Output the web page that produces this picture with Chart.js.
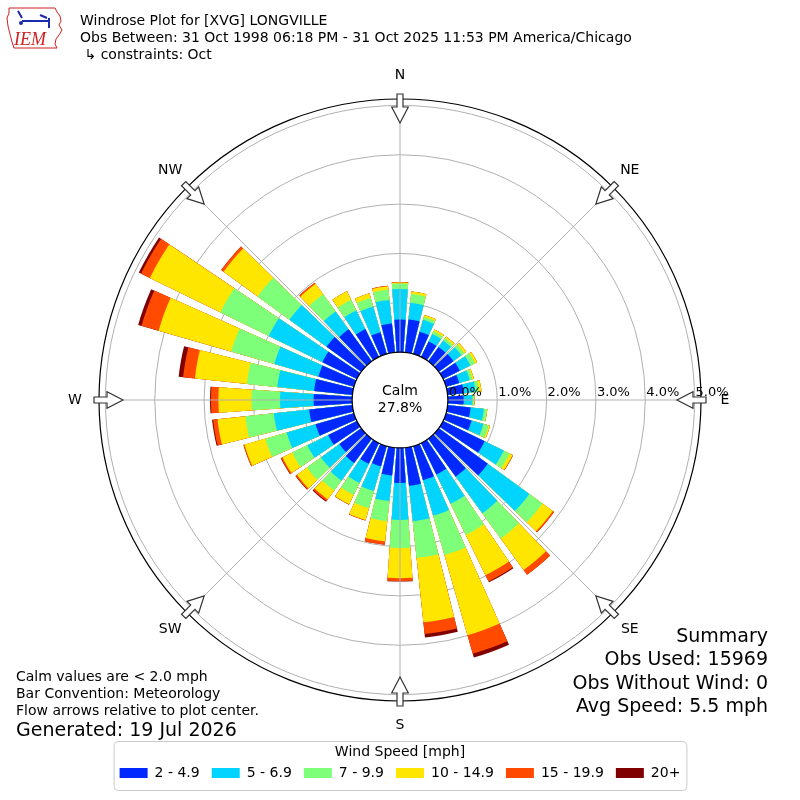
<!DOCTYPE html>
<html>
<head>
<meta charset="utf-8">
<title>Windrose XVG</title>
<script src="https://cdn.jsdelivr.net/npm/chart.js@4.4.1/dist/chart.umd.min.js"></script>
<style>
  html, body { margin: 0; padding: 0; background: #fff; }
</style>
</head>
<body>
<canvas id="rose" width="800" height="800"></canvas>
<script>
// direction bins (degrees, meteorological) and compass names
const directions = [0, 10, 20, 30, 40, 50, 60, 70, 80, 90, 100, 110,
  120, 130, 140, 150, 160, 170, 180, 190, 200, 210, 220, 230,
  240, 250, 260, 270, 280, 290, 300, 310, 320, 330, 340, 350];
const compass = ['N', 'NE', 'E', 'SE', 'S', 'SW', 'W', 'NW'];

const speedBins = ['2 - 4.9', '5 - 6.9', '7 - 9.9', '10 - 14.9', '15 - 19.9', '20+'];
const speedColors = ['#0028ff', '#00d4ff', '#7dff7a', '#ffe600', '#ff4a00', '#800000'];

// frequency (%) per direction for each speed bin
const spd2 = [0.66, 0.67, 0.47, 0.35, 0.36, 0.37, 0.38, 0.28, 0.33, 0.32, 0.47, 0.54,
  0.94, 1.23, 0.95, 0.71, 0.72, 0.78, 0.71, 0.57, 0.43, 0.47, 0.61, 0.55,
  0.65, 0.81, 0.88, 0.78, 0.78, 0.75, 0.78, 0.87, 0.80, 0.63, 0.46, 0.59];
const spd5 = [0.62, 0.34, 0.25, 0.17, 0.16, 0.20, 0.24, 0.22, 0.24, 0.18, 0.27, 0.25,
  0.43, 1.04, 0.92, 0.66, 0.75, 0.72, 0.75, 0.52, 0.52, 0.43, 0.44, 0.46,
  0.47, 0.61, 0.72, 0.68, 0.75, 0.93, 1.21, 0.93, 0.45, 0.42, 0.54, 0.48];
const spd7 = [0.11, 0.18, 0.06, 0.06, 0.06, 0.07, 0.10, 0.06, 0.07, 0.02, 0.06, 0.11,
  0.13, 0.33, 0.63, 0.70, 0.83, 0.75, 0.57, 0.41, 0.36, 0.27, 0.25, 0.35,
  0.34, 0.45, 0.58, 0.58, 0.62, 0.91, 1.09, 0.80, 0.43, 0.24, 0.18, 0.21];
const spd10 = [0.02, 0.05, 0.04, 0.04, 0.04, 0.05, 0.05, 0.03, 0.05, 0.02, 0.01, 0.03,
  0.07, 0.26, 0.79, 0.91, 1.69, 1.31, 0.61, 0.41, 0.25, 0.21, 0.22, 0.25,
  0.22, 0.44, 0.57, 0.67, 1.06, 1.53, 1.59, 0.85, 0.26, 0.19, 0.10, 0.07];
const spd15 = [0.01, 0, 0, 0, 0, 0, 0, 0, 0, 0, 0, 0,
  0.01, 0.03, 0.12, 0.14, 0.39, 0.24, 0.06, 0.07, 0.01, 0.01, 0.04, 0.03,
  0.03, 0.02, 0.09, 0.15, 0.24, 0.36, 0.20, 0.06, 0.03, 0, 0, 0.01];
const spd20 = [0, 0, 0, 0, 0, 0, 0, 0, 0, 0, 0, 0,
  0, 0, 0, 0.02, 0.08, 0.07, 0.01, 0, 0, 0, 0.02, 0.01,
  0.01, 0, 0.02, 0.02, 0.09, 0.07, 0.05, 0, 0, 0, 0, 0];

const calmPct = 27.8;
const ringTicks = [0, 1, 2, 3, 4, 5];
const rMin = -0.97;   // leaves room for the calm circle
const rMax = 5.13;

const headerLines = [
  'Windrose Plot for [XVG] LONGVILLE',
  'Obs Between: 31 Oct 1998 06:18 PM - 31 Oct 2025 11:53 PM America/Chicago',
  ' \u21b3 constraints: Oct'
];
const noteLines = ['Calm values are < 2.0 mph', 'Bar Convention: Meteorology', 'Flow arrows relative to plot center.'];
const generatedText = 'Generated: 19 Jul 2026';
const summaryLines = ['Summary', 'Obs Used: 15969', 'Obs Without Wind: 0', 'Avg Speed: 5.5 mph'];

// each direction gets a bar slot (8 deg) plus an empty gap slot (2 deg)
const labels = [];
directions.forEach(function(d) { labels.push(d + '\u00b0'); labels.push(''); });

// stacked look: cumulative totals, smallest drawn on top
const series = [spd2, spd5, spd7, spd10, spd15, spd20];
let running = directions.map(function() { return 0; });
const datasets = series.map(function(vals, k) {
  running = running.map(function(r, i) { return r + vals[i]; });
  const data = [];
  running.forEach(function(v) { data.push(+v.toFixed(3)); data.push(0); });
  return {
    label: speedBins[k],
    data: data,
    backgroundColor: speedColors[k],
    borderWidth: 0,
    angle: function(c) { return c.dataIndex % 2 ? 2 : 8; }
  };
});

const FONT = 'DejaVu Sans';

function drawArrow(ctx, cx, cy, R, deg) {
  const t = deg * Math.PI / 180;
  const pts = [[R + 5, -3], [R - 8, -3], [R - 8, -8.3], [R - 24, 0], [R - 8, 8.3], [R - 8, 3], [R + 5, 3]];
  ctx.beginPath();
  pts.forEach(function(p, i) {
    const x = cx + p[0] * Math.sin(t) + p[1] * Math.cos(t);
    const y = cy - p[0] * Math.cos(t) + p[1] * Math.sin(t);
    if (i) ctx.lineTo(x, y); else ctx.moveTo(x, y);
  });
  ctx.closePath();
  ctx.fillStyle = '#fff';
  ctx.fill();
  ctx.strokeStyle = '#333';
  ctx.lineWidth = 1.2;
  ctx.stroke();
}

function drawLogo(ctx) {
  ctx.save();
  // rough Iowa outline
  const iowa = [[9, 8], [55, 8], [57, 12], [60, 16], [61, 21], [59, 25], [62, 30], [59, 35],
    [56, 39], [55, 44], [57, 48], [14, 48], [12, 42], [10, 34], [8, 26], [7, 18], [9, 13]];
  ctx.beginPath();
  iowa.forEach(function(p, i) { if (i) ctx.lineTo(p[0], p[1]); else ctx.moveTo(p[0], p[1]); });
  ctx.closePath();
  ctx.strokeStyle = '#d02020';
  ctx.lineWidth = 1;
  ctx.stroke();
  // little station model
  ctx.strokeStyle = '#1a2bb0';
  ctx.fillStyle = '#1a2bb0';
  ctx.lineWidth = 2;
  ctx.beginPath();
  ctx.moveTo(18, 11); ctx.lineTo(22, 18);
  ctx.moveTo(22, 21); ctx.lineTo(50, 21);
  ctx.moveTo(40, 15); ctx.lineTo(47, 18);
  ctx.moveTo(49, 18); ctx.lineTo(49, 28);
  ctx.stroke();
  ctx.beginPath(); ctx.arc(21, 23, 2, 0, Math.PI * 2); ctx.fill();
  ctx.fillStyle = '#d02020';
  ctx.font = 'italic 18px "Liberation Serif"';
  ctx.textAlign = 'left';
  ctx.textBaseline = 'alphabetic';
  ctx.fillText('IEM', 14, 45);
  ctx.restore();
}

const roseDecor = {
  id: 'roseDecor',
  afterDatasetsDraw: function(chart) {
    const s = chart.scales.r, ctx = chart.ctx;
    const r0 = s.getDistanceFromCenterForValue(0), r1 = s.drawingArea;
    ctx.save();
    ctx.strokeStyle = '#b0b0b0';
    ctx.lineWidth = 1;
    for (let a = 0; a < 360; a += 45) {
      const t = a * Math.PI / 180;
      ctx.beginPath();
      ctx.moveTo(s.xCenter + r0 * Math.sin(t), s.yCenter - r0 * Math.cos(t));
      ctx.lineTo(s.xCenter + r1 * Math.sin(t), s.yCenter - r1 * Math.cos(t));
      ctx.stroke();
    }
    ctx.restore();
  },
  afterDraw: function(chart) {
    const s = chart.scales.r, ctx = chart.ctx;
    const cx = s.xCenter, cy = s.yCenter, R = s.drawingArea;
    const rc = s.getDistanceFromCenterForValue(0);
    ctx.save();

    // calm circle
    ctx.beginPath();
    ctx.arc(cx, cy, rc, 0, Math.PI * 2);
    ctx.fillStyle = '#fff';
    ctx.fill();
    ctx.strokeStyle = '#000';
    ctx.lineWidth = 1.2;
    ctx.stroke();
    ctx.fillStyle = '#000';
    ctx.font = '14px "' + FONT + '"';
    ctx.textAlign = 'center';
    ctx.textBaseline = 'middle';
    ctx.fillText('Calm', cx, cy - 9);
    ctx.fillText(calmPct.toFixed(1) + '%', cx, cy + 8);

    // ring labels along the east axis
    ctx.font = '13px "' + FONT + '"';
    ctx.textAlign = 'left';
    ctx.textBaseline = 'alphabetic';
    ringTicks.forEach(function(v) {
      ctx.fillText(v.toFixed(1) + '%', cx + s.getDistanceFromCenterForValue(v) + 1, cy - 4);
    });

    // compass arrows and names
    compass.forEach(function(name, i) {
      const deg = i * 45;
      drawArrow(ctx, cx, cy, R, deg);
      const t = deg * Math.PI / 180;
      ctx.fillStyle = '#000';
      ctx.font = '14px "' + FONT + '"';
      ctx.textAlign = 'center';
      ctx.textBaseline = 'middle';
      ctx.fillText(name, cx + (R + 24) * Math.sin(t), cy - (R + 24) * Math.cos(t));
    });

    // header
    ctx.fillStyle = '#000';
    ctx.textAlign = 'left';
    ctx.textBaseline = 'alphabetic';
    ctx.font = '14px "' + FONT + '"';
    headerLines.forEach(function(line, i) { ctx.fillText(line, 80, 25 + i * 17); });

    // notes bottom left
    noteLines.forEach(function(line, i) { ctx.fillText(line, 16, 681 + i * 17); });
    ctx.font = '19px "' + FONT + '"';
    ctx.fillText(generatedText, 16, 736);

    // summary bottom right
    ctx.textAlign = 'right';
    summaryLines.forEach(function(line, i) { ctx.fillText(line, 768, 642 + i * 23.4); });

    // frame round the legend
    const lg = chart.legend;
    if (lg && lg.legendHitBoxes && lg.legendHitBoxes.length) {
      let left = Infinity, right = -Infinity;
      lg.legendHitBoxes.forEach(function(h) {
        left = Math.min(left, h.left);
        right = Math.max(right, h.left + h.width);
      });
      const x0 = left - 6, x1 = right + 6, y0 = lg.top + 40, y1 = lg.bottom;
      ctx.strokeStyle = '#cccccc';
      ctx.lineWidth = 1;
      ctx.beginPath();
      ctx.roundRect(x0 + 0.5, y0 + 0.5, x1 - x0, y1 - y0, 4);
      ctx.stroke();
    }

    drawLogo(ctx);
    ctx.restore();
  }
};

Chart.defaults.font.family = FONT;
Chart.defaults.color = '#000';

new Chart(document.getElementById('rose'), {
  type: 'polarArea',
  data: { labels: labels, datasets: datasets },
  options: {
    responsive: false,
    animation: false,
    layout: { padding: { top: 99, bottom: 10, left: 50, right: 50 } },
    scales: {
      r: {
        type: 'radialLinear',
        min: rMin,
        max: rMax,
        startAngle: -4,
        z: 1,
        afterBuildTicks: function(scale) {
          scale.ticks = ringTicks.concat([rMax]).map(function(v) { return { value: v }; });
        },
        ticks: { display: false },
        pointLabels: { display: false },
        angleLines: { display: false },
        grid: {
          circular: true,
          color: function(c) { return c.tick && c.tick.value > 5 ? '#000' : '#b0b0b0'; },
          lineWidth: function(c) { return c.tick && c.tick.value > 5 ? 1.2 : 1; }
        }
      }
    },
    plugins: {
      legend: {
        position: 'bottom',
        onClick: function() {},
        labels: {
          font: { family: FONT, size: 14 },
          color: '#000',
          boxWidth: 28,
          boxHeight: 10,
          padding: 12,
          generateLabels: function(chart) {
            return chart.data.datasets.map(function(ds, i) {
              return { text: ds.label, fillStyle: ds.backgroundColor, strokeStyle: ds.backgroundColor,
                lineWidth: 0, hidden: false, datasetIndex: i, fontColor: '#000' };
            });
          }
        },
        title: {
          display: true,
          text: 'Wind Speed [mph]',
          color: '#000',
          font: { family: FONT, size: 14, lineHeight: 1 },
          padding: { top: 44, bottom: -5 }
        }
      },
      tooltip: { enabled: false }
    }
  },
  plugins: [roseDecor]
});
</script>
</body>
</html>
